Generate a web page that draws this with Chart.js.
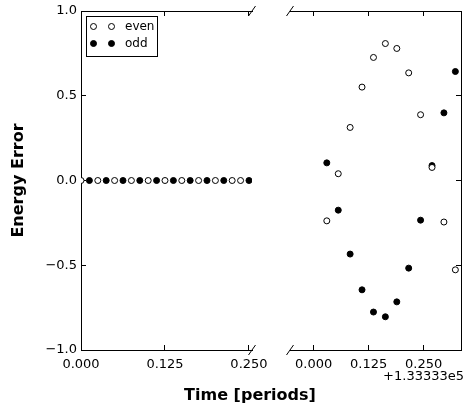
<!DOCTYPE html>
<html>
<head>
<meta charset="utf-8">
<script src="https://cdn.jsdelivr.net/npm/chart.js@4.4.0/dist/chart.umd.min.js"></script>
<style>
  html, body { margin: 0; padding: 0; background: #fff; }
  #wrap { position: relative; width: 466px; height: 408px; }
  #wrap canvas { position: absolute; left: 0; top: 0; }
</style>
</head>
<body>
<div id="wrap">
  <canvas id="leftChart" width="466" height="408"></canvas>
  <canvas id="rightChart" width="466" height="408"></canvas>
</div>
<script>
// left panel: start of the run (time in periods)
const leftEvenTime  = [0, 0.025, 0.05, 0.075, 0.1, 0.125, 0.15, 0.175, 0.2, 0.225, 0.2375];
const leftEvenError = [0, 0, 0, 0, 0, 0, 0, 0, 0, 0, 0];
const leftOddTime   = [0.0125, 0.0375, 0.0625, 0.0875, 0.1125, 0.1375, 0.1625, 0.1875, 0.2125, 0.25];
const leftOddError  = [0, 0, 0, 0, 0, 0, 0, 0, 0, 0];

// right panel: late in the run, time relative to the offset
const timeOffsetLabel = '+1.33333e5';
const rightTime      = [0.030, 0.056, 0.083, 0.110, 0.136, 0.163, 0.189, 0.216, 0.243, 0.269, 0.296, 0.322];
const rightEvenError = [-0.238, 0.040, 0.313, 0.551, 0.726, 0.808, 0.779, 0.635, 0.388, 0.077, -0.245, -0.527];
const rightOddError  = [0.104, -0.175, -0.434, -0.645, -0.776, -0.804, -0.716, -0.517, -0.234, 0.088, 0.399, 0.643];

// axes
const yTicks = [-1, -0.5, 0, 0.5, 1];
const leftTimeTicks = [0, 0.125, 0.25];
const rightTimeTicks = [0, 0.125, 0.25];
const leftTimeRange = [0, 0.2545];
const rightTimeRange = [-0.0536, 0.3348];

Chart.defaults.font.family = "'DejaVu Sans', sans-serif";
Chart.defaults.color = '#000';

const toPoints = (xs, ys) => xs.map((x, i) => ({ x: x, y: ys[i] }));

function seriesSet(evenPts, oddPts) {
    return [
        { label: 'even', data: evenPts, pointRadius: 3, pointBorderWidth: 1,
          pointBackgroundColor: '#fff', pointBorderColor: '#000', clip: 0 },
        { label: 'odd', data: oddPts, pointRadius: 3, pointBorderWidth: 1,
          pointBackgroundColor: '#000', pointBorderColor: '#000', clip: 0 }
    ];
}

// ticks pointing inward, black frame
const inwardGrid = { drawOnChartArea: false, drawTicks: true, tickLength: -5, color: '#000', lineWidth: 1 };
const frame = { display: true, color: '#000', width: 1 };

function timeAxis(range, tickList, pos) {
    const top = pos === 'top';
    return {
        type: 'linear', position: pos, min: range[0], max: range[1],
        afterBuildTicks: s => { s.ticks = tickList.map(v => ({ value: v })); },
        afterFit: s => {
            s.height = top ? 11 : 58;
            s.paddingLeft = 0; s.paddingRight = 0;
        },
        ticks: { display: !top, padding: 12, maxRotation: 0, autoSkip: false,
                 font: { size: 13 }, callback: v => v.toFixed(3) },
        grid: inwardGrid,
        border: frame
    };
}

function errorAxis(pos) {
    const left = pos === 'left';
    return {
        type: 'linear', position: pos, min: -1, max: 1,
        afterBuildTicks: s => { s.ticks = yTicks.map(v => ({ value: v })); },
        afterFit: s => {
            s.width = left ? 81 : 0;
            // labels may hang over the frame, as in the original
            s.paddingTop = 0; s.paddingBottom = 0;
        },
        ticks: { display: left, padding: 9, font: { size: 13 },
                 callback: v => (v < 0 ? '\u2212' : '') + Math.abs(v).toFixed(1) },
        title: { display: left, text: 'Energy Error', font: { size: 16, weight: 'bold' },
                 padding: { top: 9, bottom: 0 } },
        grid: inwardGrid,
        border: frame
    };
}

// small "/" marks where the axis is broken
function slash(ctx, cx, cy) {
    ctx.beginPath();
    ctx.moveTo(cx - 3.5, cy + 5);
    ctx.lineTo(cx + 3.5, cy - 5);
    ctx.stroke();
}

const leftDecor = {
    id: 'leftDecor',
    afterDraw(chart) {
        const { ctx, chartArea: a } = chart;
        ctx.save();
        ctx.strokeStyle = '#000';
        ctx.lineWidth = 1;
        slash(ctx, a.right, a.top);
        slash(ctx, a.right, a.bottom);

        // legend box (two markers per entry)
        ctx.strokeRect(86.5, 16.5, 71, 40);
        ctx.font = "12px 'DejaVu Sans'";
        ctx.textAlign = 'left';
        ctx.textBaseline = 'middle';
        chart.data.datasets.forEach((ds, i) => {
            const y = 26.5 + i * 17;
            [93.5, 111.5].forEach(x => {
                ctx.beginPath();
                ctx.arc(x, y, 3, 0, Math.PI * 2);
                ctx.fillStyle = ds.pointBackgroundColor;
                ctx.fill();
                ctx.stroke();
            });
            ctx.fillStyle = '#000';
            ctx.fillText(ds.label, 125, y);
        });

        // shared x-axis title
        ctx.font = "bold 16px 'DejaVu Sans'";
        ctx.textAlign = 'center';
        ctx.textBaseline = 'alphabetic';
        ctx.fillStyle = '#000';
        ctx.fillText('Time [periods]', 250, 400);
        ctx.restore();
    }
};

const rightDecor = {
    id: 'rightDecor',
    afterDraw(chart) {
        const { ctx, chartArea: a } = chart;
        ctx.save();
        ctx.strokeStyle = '#000';
        ctx.lineWidth = 1;
        slash(ctx, a.left, a.top);
        slash(ctx, a.left, a.bottom);
        ctx.font = "13px 'DejaVu Sans'";
        ctx.textAlign = 'right';
        ctx.textBaseline = 'middle';
        ctx.fillStyle = '#000';
        ctx.fillText(timeOffsetLabel, 464, 377);
        ctx.restore();
    }
};

const baseOptions = {
    responsive: false,
    animation: false,
    plugins: { legend: { display: false }, tooltip: { enabled: false } }
};

new Chart(document.getElementById('leftChart'), {
    type: 'scatter',
    data: { datasets: seriesSet(toPoints(leftEvenTime, leftEvenError), toPoints(leftOddTime, leftOddError)) },
    options: Object.assign({}, baseOptions, {
        layout: { padding: { left: 0, right: 214, top: 0, bottom: 0 } },
        scales: {
            x: timeAxis(leftTimeRange, leftTimeTicks, 'bottom'),
            xTop: timeAxis(leftTimeRange, leftTimeTicks, 'top'),
            y: errorAxis('left')
        }
    }),
    plugins: [leftDecor]
});

new Chart(document.getElementById('rightChart'), {
    type: 'scatter',
    data: { datasets: seriesSet(toPoints(rightTime, rightEvenError), toPoints(rightTime, rightOddError)) },
    options: Object.assign({}, baseOptions, {
        layout: { padding: { left: 290, right: 2, top: 0, bottom: 0 } },
        scales: {
            x: timeAxis(rightTimeRange, rightTimeTicks, 'bottom'),
            xTop: timeAxis(rightTimeRange, rightTimeTicks, 'top'),
            y: errorAxis('right')
        }
    }),
    plugins: [rightDecor]
});
</script>
</body>
</html>
